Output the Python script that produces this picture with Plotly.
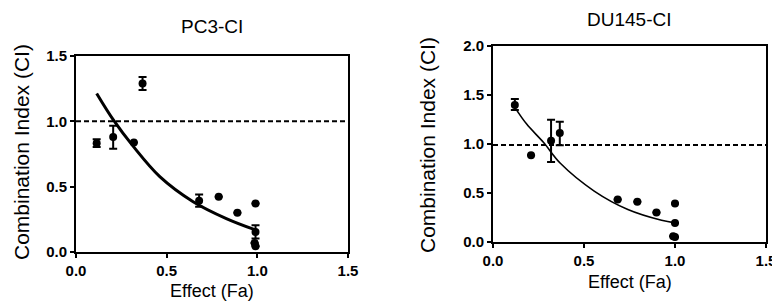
import plotly.graph_objects as go

# page body has an 8px margin, so the figure is sized and positioned to compensate
OFF = 8
W, H = 780 - OFF, 304 - OFF

# ---- PC3-CI data ----
pc3_fa = [0.114, 0.205, 0.319, 0.367, 0.679, 0.787, 0.89, 0.99, 0.99, 0.985, 0.99]
pc3_ci = [0.833, 0.88, 0.838, 1.29, 0.392, 0.423, 0.30, 0.372, 0.154, 0.069, 0.044]
pc3_err_plus = [0.03, 0.087, 0, 0.05, 0.048, 0, 0, 0, 0.051, 0, 0]
pc3_err_minus = [0.03, 0.09, 0, 0.05, 0.046, 0, 0, 0, 0.051, 0, 0]
pc3_curve_fa = [0.114, 0.205, 0.316, 0.462, 0.646, 0.829, 0.994]
pc3_curve_ci = [1.213, 1.013, 0.808, 0.577, 0.385, 0.256, 0.167]

# ---- DU145-CI data ----
du_fa = [0.12, 0.209, 0.319, 0.367, 0.685, 0.793, 0.898, 1.0, 1.0, 0.99, 1.0]
du_ci = [1.398, 0.885, 1.032, 1.111, 0.434, 0.41, 0.30, 0.393, 0.195, 0.058, 0.051]
du_err_plus = [0.06, 0, 0.216, 0.116, 0, 0, 0, 0, 0, 0, 0]
du_err_minus = [0.05, 0, 0.215, 0.123, 0, 0, 0, 0, 0, 0, 0]
du_curve_fa = [0.12, 0.185, 0.278, 0.37, 0.556, 0.741, 0.926, 1.0]
du_curve_ci = [1.374, 1.203, 1.015, 0.803, 0.52, 0.332, 0.222, 0.195]

ref_fa = [0.0, 1.5]
pc3_ref = [1.0, 1.0]
du_ref = [0.99, 0.99]

ticks_x = [0.0, 0.5, 1.0, 1.5]
pc3_ticks_y = [0.0, 0.5, 1.0, 1.5]
du_ticks_y = [0.0, 0.5, 1.0, 1.5, 2.0]

FONT = "Liberation Sans, Arial, sans-serif"
fig = go.Figure()

def add_panel(xa, ya, fa, ci, ep, em, cfa, cci, ref, curve_w):
    fig.add_trace(go.Scatter(x=ref_fa, y=ref, xaxis=xa, yaxis=ya, mode="lines",
                             line=dict(color="black", width=2, dash="5px,3px"),
                             showlegend=False, hoverinfo="skip"))
    fig.add_trace(go.Scatter(x=cfa, y=cci, xaxis=xa, yaxis=ya, mode="lines",
                             line=dict(color="black", width=curve_w, shape="spline"),
                             showlegend=False))
    fig.add_trace(go.Scatter(x=fa, y=ci, xaxis=xa, yaxis=ya, mode="markers",
                             marker=dict(color="black", size=8),
                             error_y=dict(type="data", array=ep, arrayminus=em,
                                          color="black", thickness=2, width=4),
                             showlegend=False))

add_panel("x", "y", pc3_fa, pc3_ci, pc3_err_plus, pc3_err_minus,
          pc3_curve_fa, pc3_curve_ci, pc3_ref, 3)
add_panel("x2", "y2", du_fa, du_ci, du_err_plus, du_err_minus,
          du_curve_fa, du_curve_ci, du_ref, 1.6)

def px_x(p):
    return (p - OFF) / W

def px_y(p):
    return 1 - (p - OFF) / H

axis_common = dict(showline=True, linecolor="black", linewidth=2, mirror=True,
                   ticks="outside", ticklen=4, tickwidth=2, tickcolor="black",
                   showgrid=False, zeroline=False, tickformat=".1f", automargin=False,
                   tickfont=dict(family=FONT, size=15, color="black", weight="bold"))

fig.update_layout(
    template="none",
    width=W, height=H, margin=dict(l=0, r=0, t=0, b=0, autoexpand=False),
    paper_bgcolor="white", plot_bgcolor="white", showlegend=False,
    xaxis=dict(domain=[px_x(76), px_x(348)], range=[0, 1.5], tickvals=ticks_x,
               anchor="y", **axis_common),
    yaxis=dict(domain=[px_y(252), px_y(56)], range=[0, 1.5], tickvals=pc3_ticks_y,
               anchor="x", **axis_common),
    xaxis2=dict(domain=[px_x(493), px_x(766)], range=[0, 1.5], tickvals=ticks_x,
                anchor="y2", **axis_common),
    yaxis2=dict(domain=[px_y(242), px_y(46)], range=[0, 2.0], tickvals=du_ticks_y,
                anchor="x2", **axis_common),
)

def ann(text, x, y, size, angle=0):
    fig.add_annotation(text=text, x=px_x(x), y=px_y(y), xref="paper", yref="paper",
                       showarrow=False, textangle=angle, xanchor="center", yanchor="middle",
                       font=dict(family=FONT, size=size, color="black"))

ann("PC3-CI", 212, 27, 19)
ann("DU145-CI", 629, 19, 19)
ann("Effect (Fa)", 212, 291, 18)
ann("Effect (Fa)", 630, 282, 18)
ann("Combination Index (CI)", 21, 152, 21, -90)
ann("Combination Index (CI)", 427, 145, 21, -90)

fig.write_html("out.html")
